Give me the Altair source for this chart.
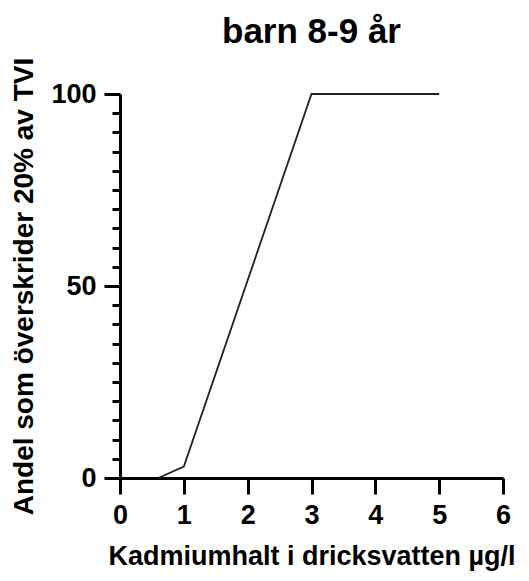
import altair as alt
import pandas as pd

x_vals = [0.6, 1.0, 3.0, 5.0]
y_vals = [0.0, 3.0, 100.0, 100.0]

df = pd.DataFrame({"x": x_vals, "y": y_vals})

FONT = "Liberation Sans"
LBL = 27
TTL = 28

chart = alt.Chart(df).mark_line(color="#222222", strokeWidth=1.8, clip=False).encode(
    x=alt.X("x:Q", scale=alt.Scale(domain=[0, 6], nice=False, zero=False),
            axis=alt.Axis(title="Kadmiumhalt i dricksvatten µg/l", values=[0, 1, 2, 3, 4, 5, 6],
                          format="d", grid=False, domainWidth=3, domainColor="black",
                          tickWidth=3, tickColor="black", tickSize=16, labelPadding=8,
                          labelFontSize=LBL, labelFont=FONT, labelFontWeight="bold", labelColor="black",
                          titleFont=FONT, titleFontSize=27, titleFontWeight="bold", titleColor="black",
                          titlePadding=15, labelFlush=False)),
    y=alt.Y("y:Q", scale=alt.Scale(domain=[0, 100], nice=False),
            axis=alt.Axis(title="Andel som överskrider 20% av TVI",
                          values=list(range(0, 101, 5)),
                          labelExpr="datum.value % 50 === 0 ? datum.label : ''",
                          grid=False, domainWidth=3, domainColor="black",
                          tickWidth=3, tickColor="black",
                          tickSize={"condition": {"test": "datum.value % 50 === 0", "value": 16}, "value": 8},
                          labelPadding=8,
                          labelFontSize=LBL, labelFont=FONT, labelFontWeight="bold", labelColor="black",
                          titleFont=FONT, titleFontSize=TTL, titleFontWeight="bold", titleColor="black",
                          titlePadding=12, labelFlush=False)),
).properties(
    width=383, height=384,
    title=alt.Title("barn 8-9 år", font=FONT, fontSize=35, fontWeight="bold", color="black",
                    anchor="middle", offset=7),
    autosize=alt.AutoSizeParams(type="none"),
    padding={"left": 112, "top": 86, "right": 18, "bottom": 95},
    background="white",
).configure_view(stroke=None)

chart.save("out.html", embed_options={"renderer": "svg", "actions": False})
